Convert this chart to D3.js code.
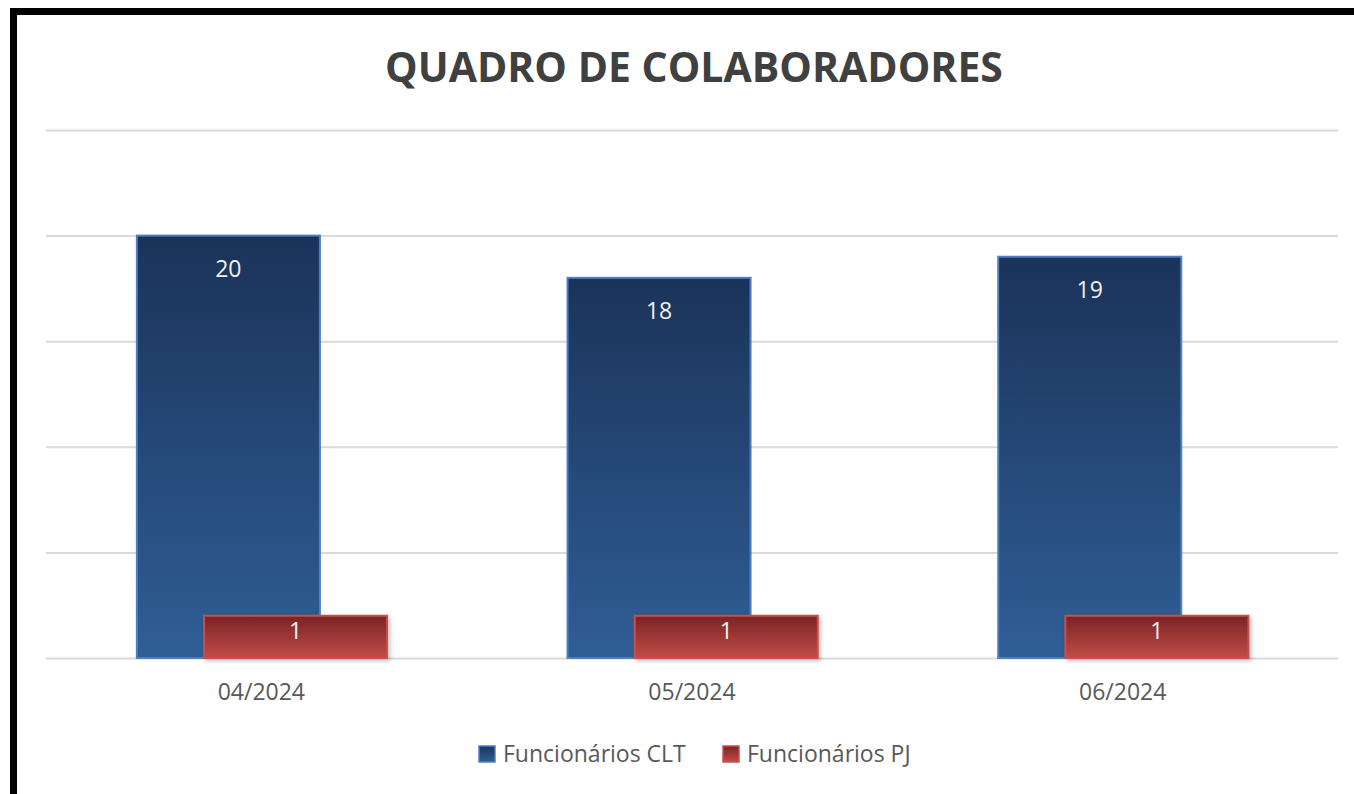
<!DOCTYPE html>
<html>
<head>
<meta charset="utf-8">
<script src="https://cdn.jsdelivr.net/npm/d3@7"></script>
<style>
  body { margin: 0; background: #fff; }
  svg { display: block; font-family: "Open Sans", "Noto Sans", sans-serif; }
</style>
</head>
<body>
<div id="chart"></div>
<script>
// Chart data
var MONTHS = ['04/2024', '05/2024', '06/2024'];
var CLT = [20, 18, 19];
var PJ = [1, 1, 1];
var SERIES = ['Funcionários CLT', 'Funcionários PJ'];
// Gridline ticks on main axis
var TICKS = [0, 5, 10, 15, 20, 25];

var W = 1354, H = 794;
var margin = {top: 130, left: 46, right: 16, bottom: 136};

var svg = d3.select('#chart').append('svg')
  .attr('width', W)
  .attr('height', H);

var defs = svg.append('defs');

// gradients like the office bar fill
function gradient(id, top, bottom) {
  var g = defs.append('linearGradient')
    .attr('id', id)
    .attr('x1', 0).attr('y1', 0).attr('x2', 0).attr('y2', 1);
  g.append('stop').attr('offset', '0%').attr('stop-color', top);
  g.append('stop').attr('offset', '100%').attr('stop-color', bottom);
}
gradient('gBlue', '#1b3359', '#2f5e96');
gradient('gRed', '#7a2424', '#c24b48');

var shadow = defs.append('filter').attr('id', 'shadow')
  .attr('x', '-10%').attr('y', '-20%').attr('width', '130%').attr('height', '160%');
shadow.append('feDropShadow')
  .attr('dx', 2).attr('dy', 2).attr('stdDeviation', 2)
  .attr('flood-color', '#000').attr('flood-opacity', 0.25);

// black frame top and left
svg.append('rect').attr('x', 10).attr('y', 8).attr('width', W - 10).attr('height', 7).attr('fill', '#000');
svg.append('rect').attr('x', 10).attr('y', 8).attr('width', 7).attr('height', H - 8).attr('fill', '#000');

// title
svg.append('text')
  .attr('x', 694)
  .attr('y', 82)
  .attr('text-anchor', 'middle')
  .attr('font-size', 41)
  .attr('font-weight', 'bold')
  .attr('fill', '#404040')
  .text('QUADRO DE COLABORADORES');

var x = d3.scaleBand()
  .domain(MONTHS)
  .range([margin.left, W - margin.right])
  .padding(0);

var y = d3.scaleLinear()
  .domain([0, 25])
  .range([H - margin.bottom, margin.top]);

// secondary axis for PJ series
var y2 = d3.scaleLinear()
  .domain([0, 12.5])
  .range([H - margin.bottom, margin.top]);

// gridlines
svg.append('g')
  .attr('transform', 'translate(' + margin.left + ',0)')
  .call(d3.axisLeft(y)
    .tickValues(TICKS)
    .tickSize(-(W - margin.left - margin.right))
    .tickFormat(''))
  .call(function(g) {
    g.select('.domain').remove();
    g.selectAll('line').attr('stroke', '#d9d9d9').attr('stroke-width', 2);
  });

var bw = x.bandwidth() * 0.425;

// CLT bars
svg.append('g').selectAll('rect')
  .data(CLT)
  .join('rect')
  .attr('x', function(d, i) { return x(MONTHS[i]) + x.bandwidth() * 0.211; })
  .attr('y', function(d) { return y(d); })
  .attr('width', bw)
  .attr('height', function(d) { return y(0) - y(d); })
  .attr('fill', 'url(#gBlue)')
  .attr('stroke', '#4f7fc0')
  .attr('stroke-width', 2);

svg.append('g').selectAll('text')
  .data(CLT)
  .join('text')
  .attr('x', function(d, i) { return x(MONTHS[i]) + x.bandwidth() * 0.211 + bw / 2; })
  .attr('y', function(d) { return y(d) + 41; })
  .attr('text-anchor', 'middle')
  .attr('font-size', 23)
  .attr('fill', '#f2f2f2')
  .text(function(d) { return d; });

// PJ bars
svg.append('g').selectAll('rect')
  .data(PJ)
  .join('rect')
  .attr('x', function(d, i) { return x(MONTHS[i]) + x.bandwidth() * 0.367; })
  .attr('y', function(d) { return y2(d); })
  .attr('width', bw)
  .attr('height', function(d) { return y2(0) - y2(d); })
  .attr('fill', 'url(#gRed)')
  .attr('stroke', '#c8504c')
  .attr('stroke-width', 2)
  .attr('filter', 'url(#shadow)');

svg.append('g').selectAll('text')
  .data(PJ)
  .join('text')
  .attr('x', function(d, i) { return x(MONTHS[i]) + x.bandwidth() * 0.367 + bw / 2; })
  .attr('y', function(d) { return y2(d) + 23; })
  .attr('text-anchor', 'middle')
  .attr('font-size', 23)
  .attr('fill', '#f2f2f2')
  .text(function(d) { return d; });

// x axis labels
svg.append('g')
  .attr('transform', 'translate(0,' + y(0) + ')')
  .call(d3.axisBottom(x).tickSize(0).tickPadding(26))
  .call(function(g) {
    g.select('.domain').remove();
    g.selectAll('text')
      .attr('font-size', 23)
      .attr('fill', '#595959')
      .attr('font-family', '"Open Sans", sans-serif');
  });

// legend
var legendItems = [
  {name: SERIES[0], fill: 'url(#gBlue)', stroke: '#4f7fc0', x: 479},
  {name: SERIES[1], fill: 'url(#gRed)', stroke: '#c8504c', x: 723}
];
var lg = svg.append('g').selectAll('g')
  .data(legendItems)
  .join('g')
  .attr('transform', function(d) { return 'translate(' + d.x + ',746)'; });
lg.append('rect')
  .attr('width', 16).attr('height', 16)
  .attr('fill', function(d) { return d.fill; })
  .attr('stroke', function(d) { return d.stroke; })
  .attr('stroke-width', 1.5);
lg.append('text')
  .attr('x', 24)
  .attr('y', 16)
  .attr('font-size', 23)
  .attr('fill', '#595959')
  .text(function(d) { return d.name; });
</script>
</body>
</html>
